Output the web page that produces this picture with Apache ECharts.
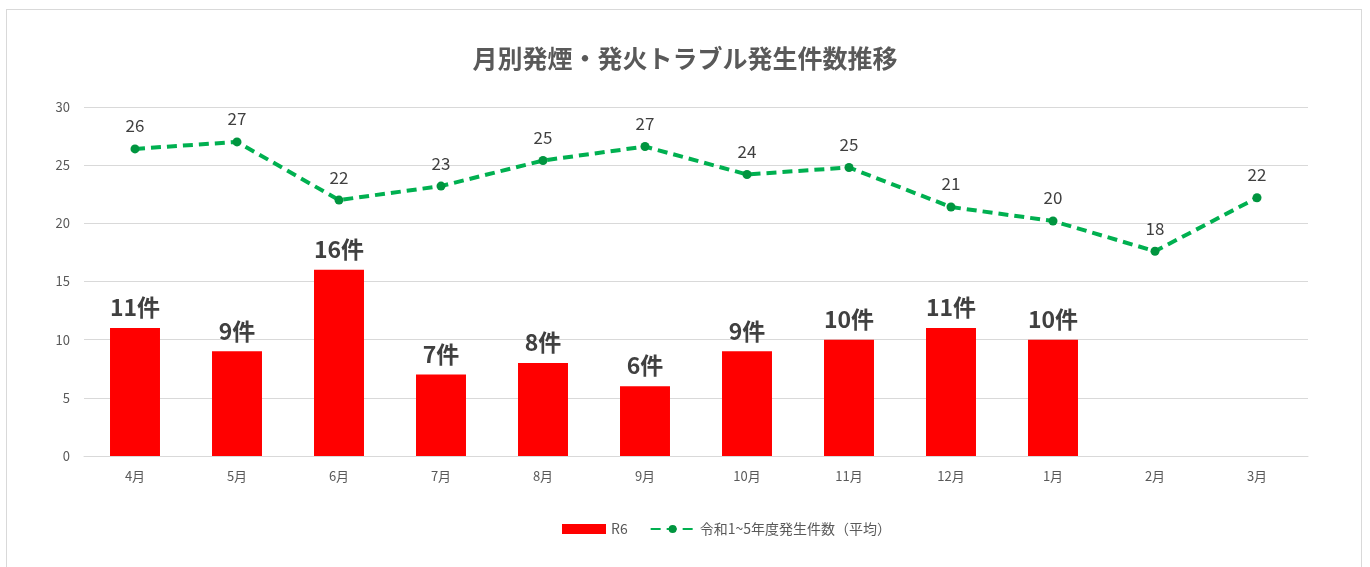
<!DOCTYPE html>
<html>
<head>
<meta charset="utf-8">
<script src="https://cdn.jsdelivr.net/npm/echarts@6/dist/echarts.min.js"></script>
<style>
  html, body { margin: 0; padding: 0; background: #fff; }
  #frame { position: absolute; left: 6px; top: 9px; width: 1356px; height: 570px; border: 1px solid #d9d9d9; box-sizing: border-box; }
  #chart { width: 1370px; height: 567px; position: absolute; left: 0; top: 0; }
</style>
</head>
<body>
<div id="frame"></div>
<div id="chart"></div>
<script>
// 月
const months = ['4月', '5月', '6月', '7月', '8月', '9月', '10月', '11月', '12月', '1月', '2月', '3月'];
// R6 件数
const r6Counts = [11, 9, 16, 7, 8, 6, 9, 10, 11, 10, null, null];
// 令和1~5年度 平均
const avgCounts = [26.4, 27.0, 22.0, 23.2, 25.4, 26.6, 24.2, 24.8, 21.4, 20.2, 17.6, 22.2];
const yTicks = [0, 5, 10, 15, 20, 25, 30];

const font = '"Noto Sans CJK JP", "Noto Sans", sans-serif';
const chart = echarts.init(document.getElementById('chart'));

chart.setOption({
  animation: false,
  textStyle: { fontFamily: font },
  title: {
    text: '月別発煙・発火トラブル発生件数推移',
    left: 'center',
    top: 41,
    textStyle: { fontSize: 25, fontWeight: 'bold', color: '#595959', fontFamily: font }
  },
  legend: {
    bottom: 26,
    left: 557,
    itemGap: 22,
    itemWidth: 44,
    itemHeight: 10,
    textStyle: { fontSize: 14, color: '#595959', fontFamily: font },
    data: [
      { name: 'R6', icon: 'rect' },
      { name: '令和1~5年度発生件数（平均）' }
    ]
  },
  grid: { left: 84, right: 62, top: 107, bottom: 111 },
  xAxis: {
    type: 'category',
    data: months,
    axisLine: { lineStyle: { color: '#d9d9d9', width: 1 } },
    axisTick: { show: false },
    axisLabel: { color: '#595959', fontSize: 13, margin: 14 }
  },
  yAxis: {
    type: 'value',
    min: yTicks[0],
    max: yTicks[yTicks.length - 1],
    interval: 5,
    axisLine: { show: false },
    axisTick: { show: false },
    axisLabel: { color: '#595959', fontSize: 13, margin: 14 },
    splitLine: { lineStyle: { color: '#d9d9d9', width: 1 } }
  },
  series: [
    {
      name: 'R6',
      type: 'bar',
      data: r6Counts,
      barWidth: '49%',
      itemStyle: { color: '#ff0000' },
      label: {
        show: true,
        position: 'top',
        distance: 9,
        formatter: p => p.value + '件',
        fontSize: 23,
        fontWeight: 'bold',
        color: '#404040'
      }
    },
    {
      name: '令和1~5年度発生件数（平均）',
      type: 'line',
      data: avgCounts,
      symbol: 'circle',
      symbolSize: 9,
      lineStyle: { color: '#00b050', width: 4, type: [10, 6] },
      itemStyle: { color: '#00953f' },
      label: {
        show: true,
        position: 'top',
        distance: 10,
        formatter: p => Math.round(p.value),
        fontSize: 17,
        color: '#404040'
      }
    }
  ]
});
</script>
</body>
</html>
